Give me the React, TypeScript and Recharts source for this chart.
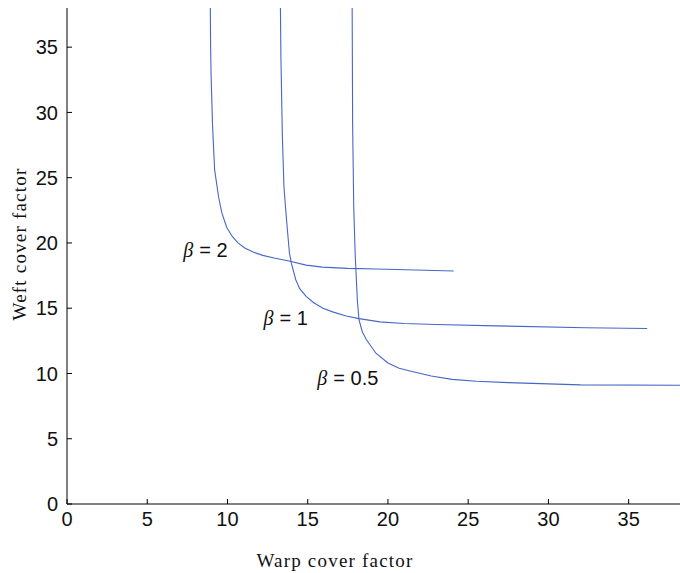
import React from "react";
import { LineChart, Line, XAxis, YAxis, ReferenceDot, Label } from "recharts";

const LINE_COLOR = "#4766c6";
const TICK_FONT = "'Liberation Sans Narrow', 'Liberation Sans', Arial, sans-serif";
const LABEL_FONT = "'Liberation Serif', 'Times New Roman', serif";

const xTicks = [0, 5, 10, 15, 20, 25, 30, 35];
const yTicks = [0, 5, 10, 15, 20, 25, 30, 35];

// beta = 2
const beta2X = [8.93, 8.95, 8.98, 9.07, 9.2, 9.45, 9.65, 9.95, 10.3, 10.65, 11.1, 11.6, 12.2, 12.9, 13.9, 14.9, 15.9, 17.5, 19.3, 24.1];
const beta2Y = [38, 35, 32.8, 29, 25.6, 23.5, 22.3, 21.2, 20.5, 20, 19.6, 19.3, 19.05, 18.85, 18.6, 18.3, 18.15, 18.05, 18.0, 17.85];

// beta = 1
const beta1X = [13.3, 13.33, 13.42, 13.52, 13.62, 13.72, 13.86, 13.98, 14.25, 14.5, 14.9, 15.4, 15.95, 16.6, 17.4, 18.2, 19.5, 21, 23, 26.7, 32.3, 36.15];
const beta1Y = [38, 34.3, 28.2, 24.3, 22.7, 21.2, 19.25, 18.45, 17.2, 16.5, 15.9, 15.4, 15.0, 14.7, 14.4, 14.2, 13.95, 13.83, 13.75, 13.65, 13.5, 13.45];

// beta = 0.5
const beta05X = [17.77, 17.8, 17.87, 17.96, 18.0, 18.1, 18.2, 18.4, 18.65, 19.25, 20, 20.7, 21.5, 22.7, 24, 25.5, 27.5, 29.5, 32, 38.2];
const beta05Y = [38, 29, 22.7, 19.1, 18, 15.5, 14.1, 13.2, 12.6, 11.55, 10.8, 10.4, 10.15, 9.8, 9.55, 9.4, 9.3, 9.22, 9.13, 9.1];

const curveNames = ["2", "1", "0.5"];
const labelX = [7.25, 12.24, 15.6];
const labelY = [18.94, 13.73, 9.13];

const toPoints = (xs: number[], ys: number[]) => xs.map((x, i) => ({ x, y: ys[i] }));

const curves = [
  toPoints(beta2X, beta2Y),
  toPoints(beta1X, beta1Y),
  toPoints(beta05X, beta05Y),
];

function BetaLabel(name: string) {
  return (props: any) => {
    const vb = props.viewBox || {};
    const x = (vb.x ?? 0) + (vb.width ?? 0) / 2;
    const y = (vb.y ?? 0) + (vb.height ?? 0) / 2;
    return (
      <text x={x} y={y} fill="#111" fontSize={20} fontFamily={TICK_FONT} fontStretch="condensed" textAnchor="start">
        <tspan fontStyle="italic" fontFamily={LABEL_FONT}>β</tspan>
        <tspan dx={6}>= {name}</tspan>
      </text>
    );
  };
}

export default function App() {
  return (
    <div style={{ position: "absolute", left: 0, top: 0, background: "#fff" }}>
      <LineChart width={680} height={573} margin={{ top: 8, right: 0, left: 0, bottom: 0 }}>
        <XAxis
          type="number"
          dataKey="x"
          domain={[0, 38.2]}
          ticks={xTicks}
          allowDataOverflow
          height={69}
          stroke="#000"
          tickSize={-5}
          tickMargin={13}
          tick={{ fill: "#111", fontSize: 20, fontFamily: TICK_FONT, fontStretch: "condensed" }}
        >
          <Label
            content={() => (
              <text x={335} y={567} textAnchor="middle" fill="#111" fontSize={19} fontFamily={LABEL_FONT} letterSpacing={1.2}>
                Warp cover factor
              </text>
            )}
          />
        </XAxis>
        <YAxis
          type="number"
          dataKey="y"
          domain={[0, 38]}
          ticks={yTicks}
          allowDataOverflow
          width={67}
          stroke="#000"
          tickSize={-5}
          tickMargin={14}
          tick={{ fill: "#111", fontSize: 20, fontFamily: TICK_FONT, fontStretch: "condensed" }}
        >
          <Label
            content={() => (
              <text
                x={26}
                y={244}
                textAnchor="middle"
                fill="#111"
                fontSize={19}
                fontFamily={LABEL_FONT}
                letterSpacing={1.2}
                transform="rotate(-90 26 244)"
              >
                Weft cover factor
              </text>
            )}
          />
        </YAxis>
        {curves.map((pts, i) => (
          <Line
            key={curveNames[i]}
            data={pts}
            dataKey="y"
            type="linear"
            stroke={LINE_COLOR}
            strokeWidth={1.1}
            dot={false}
            activeDot={false}
            isAnimationActive={false}
          />
        ))}
        {curveNames.map((name, i) => (
          <ReferenceDot
            key={"lbl" + name}
            x={labelX[i]}
            y={labelY[i]}
            r={0.01}
            fill="none"
            stroke="none"
            label={BetaLabel(name)}
          />
        ))}
      </LineChart>
    </div>
  );
}
